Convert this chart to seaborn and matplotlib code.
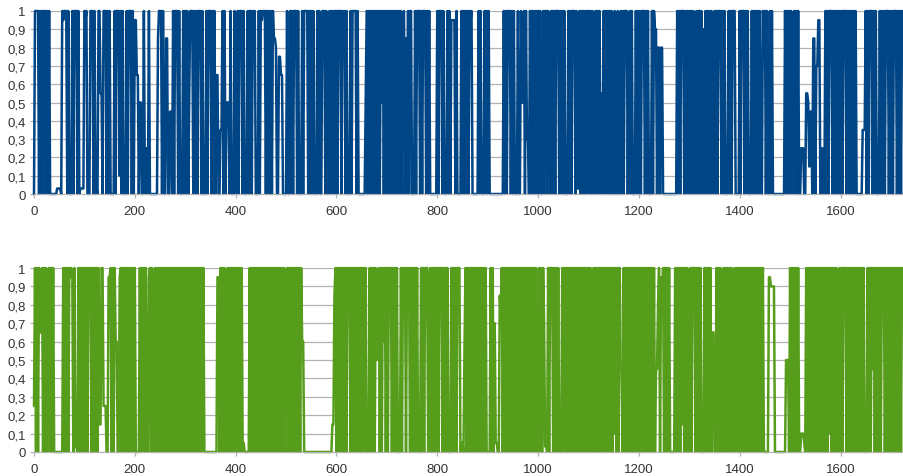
import numpy as np
import pandas as pd
import matplotlib
matplotlib.use("Agg")
import matplotlib.pyplot as plt
import seaborn as sns
from matplotlib.ticker import FuncFormatter

# Each character is one sample (samples are 2 x-units apart); level codes below
LEVELS = {'0': 0.0, 'l': 0.03, 'a': 0.05, '1': 0.1, 'b': 0.15, '2': 0.2, 'c': 0.25,
          '3': 0.3, 'd': 0.35, '4': 0.4, 'e': 0.45, '5': 0.5, 'f': 0.55, '6': 0.6,
          'g': 0.65, '7': 0.7, 'h': 0.75, '8': 0.8, 'i': 0.85, '9': 0.9, 'j': 0.95, 'X': 1.0}
STEP = 2

top_series = [
    "0XXXX0X" "0X0XX0X0X0" "000000" "llll" "0XjXXX0X000" "X0XXX0X" "0llll",
    "XjX000XXX0X0l0X" "Xff0" "XXX0X0X" "0000" "X0XXX1X0X000X0XXX0X0",
    "jjgg0550" "0X0cc0X0" "0000000" "iXXX0X0" "0ii0" "0ee0" "X0XXX0X000X0",
    "X0X0fXXX0X" "0X0XXX0X000X0" "XXX0X0X0" "gg0" "0dd" "X0X0" "5550" "X000X",
    "09X0XXX0X000X0X" "X0XjX000X0XjXXX0X0" "X0X0X" "ii80" "0hhgg0" "00",
    "0X00X0X" "0XXX0X000" "X0XXXX0X0X" "0X000X0X00" "XXX0X00X0X" "0X0X",
    "X0XXX0XjX0" "X000X0XXXX" "0X" "0000000" "5X0X0X0X0X0X0X0X5X0X0",
    "X0X0X0X0X0X0X0X0" "jX0i0X0X" "X000X0XXX0" "X0XXX0X0X" "0000000",
    "X0XXX0X000X0X0jjjj0X" "0000" "X0X0X0X0XjX0" "0000" "0X0X0" "00X0X",
    "0X00" "000000000000" "X0X0XXX0X0X000X0" "0X55X0X330" "X0X0X0X0",
    "X0X00X0XX0Xj0X0X" "X0XXX0X0X0" "X000X0X0XX" "X0XllX0X0X" "0X0X",
    "X0X0X0hX0X0X" "0f0X0X0X0X0X0" "0X00X00X" "0X0XXX0jX0X000X0X",
    "0X0XXX0X0X000X0X" "99088088" "00000000000000" "X0X0XXX0X0X0",
    "X0X0X04X0X" "X0X090X0X0X0X70" "X0X0XXX0X0X000X0X0XXX0" "000",
    "X0XXX0X0X000X0X0X" "0X0X00XjX0X00X0X0" "00000000000" "X0X0X",
    "0X0jX0X0X0" "0ccc0" "0ff5b" "ee0" "ii077jj" "0c0c0" "X0X0XXX0X0X0X0X",
    "0X0XXX0X0X0X0X0X" "000000" "ddd" "X0X0XXX0X0X000X0X0X0XXX0X",
    "0X0XXX0X0X0X",
]

bottom_series = [
    "cX0X0XggX0X0X0jX0X0X0" "00000000" "X0X0X0XjXj0X" "ll0" "X0X0X0",
    "X0X0XjX0X0X0X0X" "bbX" "Xccc0" "0jjX0X0X66" "00" "jX0X0X0X0X0X0X0",
    "X0" "000" "X0X0" "X0Xa0jX0X0" "7X0X0X0X0X" "0X0X0X0X0X" "0X0X0X0X0X" "0",
    "X0X0X0X0X0X0X0X0X0X0" "000000000000" "jj" "0X0X0X00X0X0X0X0",
    "X0X0X" "0X0a0" "0000" "X0X0X0X0X0X0X0X0X0X0X0X0X0X0X0X0X0X0",
    "jX0X0X0X0X0X0X0X" "660" "00000000000000000000000000" "0bb" "iX",
    "0X0X0X0X0X0XiX0X0" "X0X0X0X0X0X0X" "000" "X0X0X0X5iX0X0X6X0",
    "X0XXX0X0X0X000X0XjX0XXX0X0" "X0X0X000X0X0XXX0jX0X0X0X",
    "X0XXX0X0X0X000X0X0X0XXX0" "aa0" "fX0X0X0X0X0X0X0X0X0X0X" "0",
    "000" "X0X07" "aa0" "0ihX" "0X0X0X0X0X" "0X0X0X0X0X" "0X0X0X0X0X" "0X0X0",
    "0X0X0X7" "ll0" "X0XXX0X0X0X000X0X0X0" "X0X0X0X0X0X0X0X0X0X0",
    "X0X0fX0X0X0X0X0X" "0X0X0X0X0" "X1X0" "X0Xee0" "X0X0X0X0X0X0X0X",
    "0X0X0X0X0X0X0X0" "X0ee8X" "0jiX0X0X0X" "00000" "X0X0X0XbX0X0X0",
    "jX0XXX0X0X0X000X0X0X" "0X0gg00" "X0X0X0jX0X0X0X0X0bX0X0X",
    "0X0X0X0X0X0X0X0X0X0X0X0X0" "0000" "jj99990" "0000000000" "5550",
    "X0X0X0X0X0" "0111a0" "X0X0X0X0X0" "X0X0X0X0X0" "X0X1X0X0X0" "X0jX",
    "0X0XXX0X0X" "0X0X0X0X0X" "0X0X000X0X" "0XeX0X0X0X" "0X8X0X0X0X",
    "0X0X0X0X0X0X",
]

x_ticks = [0, 200, 400, 600, 800, 1000, 1200, 1400, 1600]
y_ticks = [0.0, 0.1, 0.2, 0.3, 0.4, 0.5, 0.6, 0.7, 0.8, 0.9, 1.0]
colors = ["#004586", "#579d1c"]

for name, ser in (("top", top_series), ("bottom", bottom_series)):
    for k, c in enumerate(ser[:-1]):
        if len(c) != 50:
            raise ValueError(f"{name} chunk {k} has length {len(c)}")


def to_frame(chunks):
    codes = "".join(chunks)
    vals = [LEVELS[ch] for ch in codes]
    return pd.DataFrame({"x": np.arange(len(vals)) * STEP, "v": vals})


frames = [to_frame(top_series), to_frame(bottom_series)]

sns.set_style("white")
plt.rcParams["font.family"] = ["Liberation Sans", "DejaVu Sans"]

W, H = 904, 477
fig = plt.figure(figsize=(W / 100, H / 100), dpi=100)
ax_top = fig.add_axes([34 / W, 1 - 195 / H, 868 / W, 183 / H])
ax_bot = fig.add_axes([34 / W, 1 - 453 / H, 868 / W, 184 / H])

fmt = FuncFormatter(lambda v, _: ("%g" % round(v, 1)).replace(".", ","))

for ax, df, col in zip([ax_top, ax_bot], frames, colors):
    sns.lineplot(data=df, x="x", y="v", ax=ax, color=col, linewidth=1.8,
                 estimator=None, sort=False, clip_on=False)
    xmax = df["x"].iloc[-1]
    ax.set_xlim(0, xmax)
    ax.set_ylim(0, 1)
    ax.set_xticks(x_ticks)
    ax.set_yticks(y_ticks)
    ax.yaxis.set_major_formatter(fmt)
    ax.set_xlabel("")
    ax.set_ylabel("")
    ax.yaxis.grid(True, color="#b3b3b3", linewidth=0.9)
    ax.xaxis.grid(False)
    ax.set_axisbelow(True)
    for s in ["top", "right", "left"]:
        ax.spines[s].set_visible(False)
    ax.spines["bottom"].set_color("#b3b3b3")
    ax.tick_params(axis="both", which="both", direction="out", length=3,
                   width=0.9, color="#b3b3b3", labelcolor="#333333",
                   labelsize=9.5, pad=3)
    ax.tick_params(axis="x", bottom=True, pad=5)
    ax.tick_params(axis="y", left=True)
    ax.set_facecolor("white")

fig.savefig("out.png", dpi=100, facecolor="white")
